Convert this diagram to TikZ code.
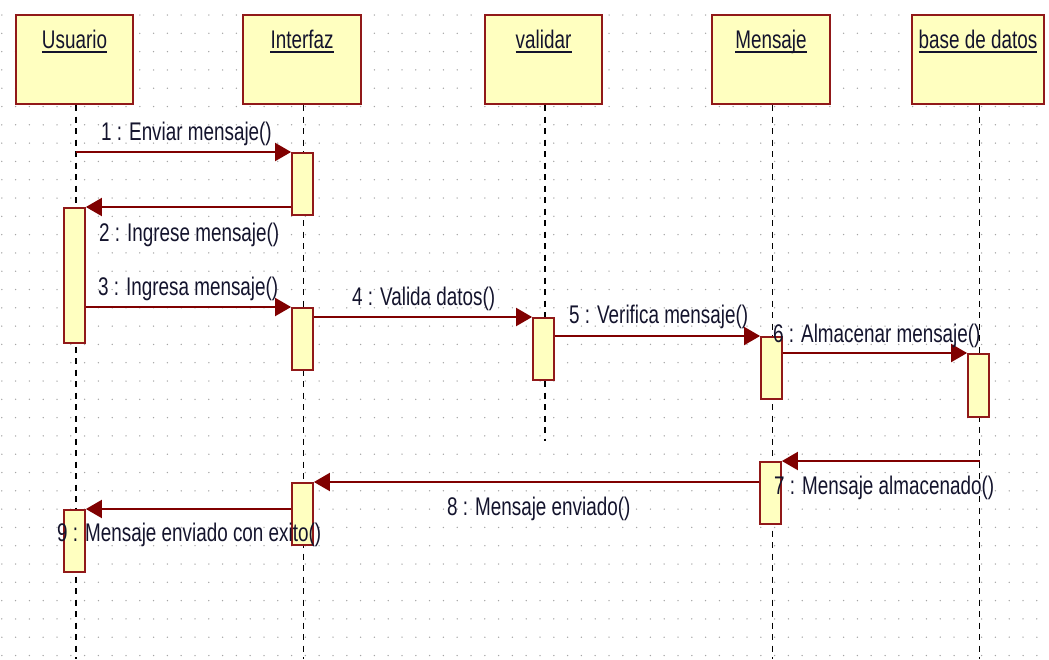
\documentclass[tikz,border=0pt]{standalone}
\usepackage{fontspec}
\setmainfont{Liberation Sans}
\usetikzlibrary{arrows.meta}
\definecolor{boxfill}{RGB}{255,255,192}
\definecolor{boxline}{RGB}{145,25,25}
\definecolor{msgline}{RGB}{128,0,0}
\definecolor{txtc}{RGB}{20,20,45}
\definecolor{dotc}{RGB}{165,165,165}
\newcommand{\sq}[1]{\scalebox{0.74}[1]{#1}}
\tikzset{
  head/.style={draw=boxline, line width=2pt, fill=boxfill, minimum height=89pt, inner sep=0pt},
  actbox/.style={draw=boxline, line width=1.8pt, fill=boxfill, minimum width=21pt, minimum height=62pt, inner sep=0pt},
  title/.style={inner sep=0pt, anchor=base, text=txtc, font=\fontsize{25.5}{30}\selectfont},
  lbl/.style={inner sep=0pt, anchor=base west, text=txtc, font=\fontsize{25.5}{30}\selectfont},
  lifeline/.style={black, line width=1.6pt, dash pattern=on 6pt off 5.5pt},
  msg/.style={msgline, line width=2pt, -{Triangle[length=16pt,width=18pt]}},
  uline/.style={txtc, line width=1.8pt}
}
\begin{document}
\begin{tikzpicture}[x=1pt,y=-1pt]
\useasboundingbox (0,0) rectangle (1049,659);
\fill[white] (0,0) rectangle (1049,659);
% dotted grid
\foreach \i in {0,...,75}{
  \foreach \j in {0,...,35}{
    \fill[dotc] (1.8+13.8*\i, 15+18.3*\j) circle (0.75pt);
  }
}
% heads
\node[head, minimum width=117pt] (hu) at (74.5,59.5) {};
\node[head, minimum width=118pt] (hi) at (302,59.5) {};
\node[head, minimum width=117pt] (hv) at (543.5,59.5) {};
\node[head, minimum width=118pt] (hm) at (771,59.5) {};
\node[head, minimum width=132pt] (hb) at (978,59.5) {};
% titles
\node[title] (tu) at (74.5,48.5) {\sq{Usuario}};
\node[title] (ti) at (302,48.5) {\sq{Interfaz}};
\node[title] (tv) at (543.5,48.5) {\sq{validar}};
\node[title] (tm) at (771,48.5) {\sq{Mensaje}};
\node[title] (tb) at (978,48.5) {\sq{base de datos}};
\foreach \t in {tu,ti,tv,tm,tb}{
  \draw[uline] ([yshift=-3.5pt]\t.base west) -- ([yshift=-3.5pt]\t.base east);
}
% lifelines
\coordinate (lu) at ([xshift=1.5pt]hu.south);
\coordinate (li) at ([xshift=1.5pt]hi.south);
\coordinate (lv) at ([xshift=1.5pt]hv.south);
\coordinate (lm) at ([xshift=1.5pt]hm.south);
\coordinate (lb) at ([xshift=1.5pt]hb.south);
\coordinate (eu) at (76,659);
\coordinate (ei) at (303.5,659);
\coordinate (ev) at (545,441);
\coordinate (em) at (772.5,659);
\coordinate (eb) at (979.5,659);
\draw[lifeline] (lu) -- (eu);
\draw[lifeline] (li) -- (ei);
\draw[lifeline] (lv) -- (ev);
\draw[lifeline] (lm) -- (em);
\draw[lifeline] (lb) -- (eb);
% activation boxes
\node[actbox, anchor=north] (i1) at (302.5,152) {};
\node[actbox, anchor=north, minimum height=135pt] (u1) at (74.5,207) {};
\node[actbox, anchor=north] (i2) at (302.5,307) {};
\node[actbox, anchor=north] (v1) at (543.5,317) {};
\node[actbox, anchor=north] (m1) at (771.5,336) {};
\node[actbox, anchor=north, minimum height=63pt] (b1) at (978.5,353) {};
\node[actbox, anchor=north] (m2) at (770.5,461) {};
\node[actbox, anchor=north] (i3) at (302.5,482) {};
\node[actbox, anchor=north] (u2) at (74.5,509) {};
% messages
\draw[msg] (lu |- i1.north) -- (i1.north west);
\draw[msg] (i1.west |- u1.north) -- (u1.north east);
\draw[msg] (u1.east |- i2.north) -- (i2.north west);
\draw[msg] (i2.east |- v1.north) -- (v1.north west);
\draw[msg] (v1.east |- m1.north) -- (m1.north west);
\draw[msg] (m1.east |- b1.north) -- (b1.north west);
\draw[msg] (lb |- m2.north) -- (m2.north east);
\draw[msg] (m2.west |- i3.north) -- (i3.north east);
\draw[msg] (i3.west |- u2.north) -- (u2.north east);
% labels
\node[lbl] (l1) at (101,140) {\sq{1 : Enviar mensaje()}};
\node[lbl] (l2) at (99,241) {\sq{2 : Ingrese mensaje()}};
\node[lbl] (l3) at (98,295) {\sq{3 : Ingresa mensaje()}};
\node[lbl] (l4) at (352,305) {\sq{4 : Valida datos()}};
\node[lbl] (l5) at (569,323) {\sq{5 : Verifica mensaje()}};
\node[lbl] (l6) at (773,342) {\sq{6 : Almacenar mensaje()}};
\node[lbl] (l7) at (774,494) {\sq{7 : Mensaje almacenado()}};
\node[lbl] (l8) at (447,515) {\sq{8 : Mensaje enviado()}};
\node[lbl] (l9) at (57,541) {\sq{9 : Mensaje enviado con exito()}};
\end{tikzpicture}
\end{document}
